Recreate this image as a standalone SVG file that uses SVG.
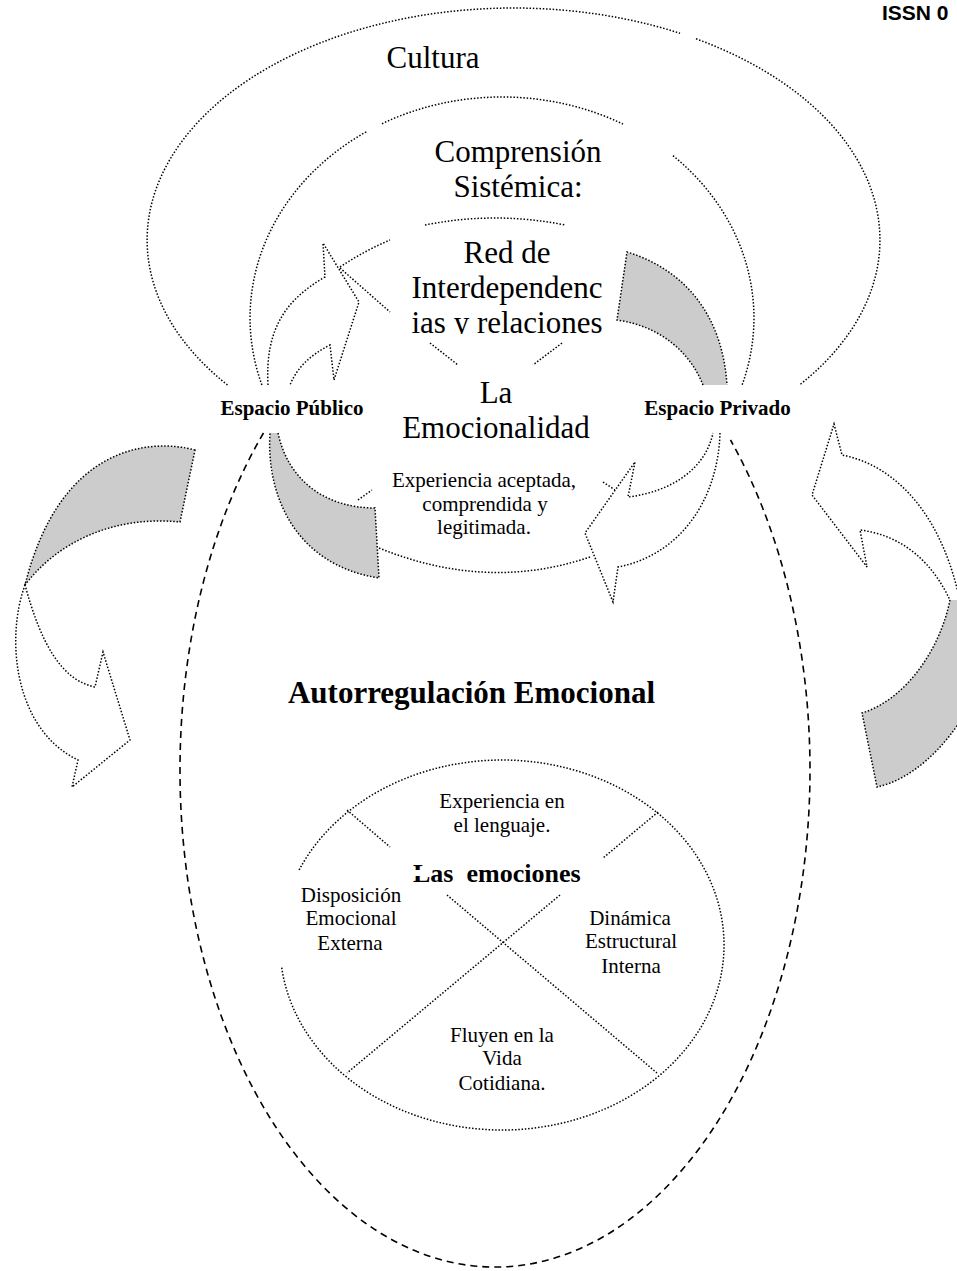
<svg xmlns="http://www.w3.org/2000/svg" width="957" height="1271" viewBox="0 0 957 1271">
<defs>
<style>
.dot{fill:none;stroke:#000;stroke-width:1.5;stroke-dasharray:1.5 1.8}
.dash{fill:none;stroke:#000;stroke-width:1.6;stroke-dasharray:7 5}
.grey{fill:#cccccc;stroke:#000;stroke-width:1.5;stroke-dasharray:1.5 1.8}
.white{fill:#ffffff;stroke:#000;stroke-width:1.5;stroke-dasharray:1.5 1.8}
.serif{font-family:"Liberation Serif","Times New Roman",serif;fill:#000}
.big{font-size:31px}
.mid{font-size:21px}
.b{font-weight:bold}
.c{text-anchor:middle}
</style>
<clipPath id="clipRed"><rect x="380" y="300" width="260" height="34"/></clipPath>
<clipPath id="clipLas"><path clip-rule="evenodd" d="M0,0H957V1271H0Z M408,870H424V876H408Z"/></clipPath>
</defs>
<rect width="957" height="1271" fill="#ffffff"/>

<g id="header">
<text x="882" y="20" font-family="'Liberation Sans',Arial,sans-serif" font-weight="bold" font-size="21">ISSN 0</text>
</g>

<g id="node-cultura">
<path class="dot" d="M227.5,385 A366.5,232 0 0 1 680,33.3"/>
<path class="dot" d="M696,38.8 A366.5,232 0 0 1 799.5,385"/>
<text class="serif big c" x="433" y="68">Cultura</text>
</g>

<g id="node-comprension">
<path class="dot" d="M261.9,385 A252,221 0 0 1 367,131.4"/>
<path class="dot" d="M382,123.7 A252,221 0 0 1 623,124.1"/>
<path class="dot" d="M673,155.7 A252,221 0 0 1 742.1,385"/>
<text class="serif big c" x="518" y="162">Comprensión</text>
<text class="serif big c" x="518" y="197">Sistémica:</text>
</g>

<g id="node-red">
<path class="dot" d="M340,267 Q364,251 390,240"/>
<path class="dot" d="M425,225 Q495,211 565,225"/>
<path class="dot" d="M340,268 L390,312"/>
<path class="dot" d="M430,343 L458,365"/>
<path class="dot" d="M562,343 L533,365"/>
<text class="serif big c" x="507" y="263">Red de</text>
<text class="serif big c" x="507" y="298">Interdependenc</text>
<text class="serif big c" x="507" y="333" clip-path="url(#clipRed)">ias y relaciones</text>
</g>

<g id="node-emocionalidad">
<path class="dot" d="M358,500 L372,490"/>
<path class="dot" d="M603,482 L615,490"/>
<path class="dot" d="M379,548 Q487,592 590,557"/>
<text class="serif big c" x="496" y="403">La</text>
<text class="serif big c" x="496" y="438">Emocionalidad</text>
<text class="serif mid c" x="484" y="487">Experiencia aceptada,</text>
<text class="serif mid c" x="485" y="511">comprendida y</text>
<text class="serif mid c" x="484" y="534">legitimada.</text>
</g>

<g id="node-espacio-publico">
<text class="serif b c" font-size="21" x="292" y="415">Espacio Público</text>
</g>

<g id="node-espacio-privado">
<text class="serif b c" font-size="21" x="717.5" y="415">Espacio Privado</text>
</g>

<g id="node-autorregulacion">
<path class="dash" d="M263.5,433 A315,497 0 1 0 730.5,440"/>
<text class="serif b c big" x="471.5" y="703">Autorregulación Emocional</text>
</g>

<g id="node-las-emociones">
<path class="dot" d="M299.1,870 A222,185 0 1 1 281.6,967"/>
<path class="dot" d="M347,810 L390,847"/>
<path class="dot" d="M447,895 L657,1073"/>
<path class="dot" d="M658,812 L603,858"/>
<path class="dot" d="M560,895 L347,1073"/>
<text class="serif b" font-size="26" x="413" y="882" xml:space="preserve" clip-path="url(#clipLas)">Las  emociones</text>
<text class="serif mid c" x="502" y="808">Experiencia en</text>
<text class="serif mid c" x="502" y="832">el lenguaje.</text>
<text class="serif mid c" x="351" y="902">Disposición</text>
<text class="serif mid c" x="351" y="925">Emocional</text>
<text class="serif mid c" x="350" y="950">Externa</text>
<text class="serif mid c" x="630" y="925">Dinámica</text>
<text class="serif mid c" x="631" y="948">Estructural</text>
<text class="serif mid c" x="631" y="973">Interna</text>
<text class="serif mid c" x="502" y="1042">Fluyen en la</text>
<text class="serif mid c" x="502" y="1065">Vida</text>
<text class="serif mid c" x="502" y="1090">Cotidiana.</text>
</g>

<g id="connectors">
<g id="arrow-publico-red">
<path class="white" d="M268,385 C265,330 285,300 325,277 L323,243 L359,302 L334,380 L330,345 Q300,360 290,385"/>
<path class="grey" d="M278,433 C288,480 325,508 375,508 L379,578 C295,565 266,495 270,433"/>
</g>
<g id="arrow-privado-emocionalidad">
<path class="grey" d="M703,385 C690,352 660,326 617,320 L627,252 C680,268 722,310 727,385"/>
<path class="white" d="M720,433 C718,500 680,555 618,567 L613,602 L585,533 L635,462 L628,497 C670,492 705,470 713,433"/>
</g>
<g id="arrow-outer-left">
<path class="grey" d="M195,450 C150,438 60,445 25,585 C55,545 110,515 180,522 Z"/>
<path class="white" d="M25,585 C5,640 15,730 78,760 L72,787 L130,740 L103,652 L95,687 C60,680 40,640 25,585 Z"/>
</g>
<g id="arrow-outer-right">
<path class="white" d="M962,612 C945,515 895,465 842,455 L834,424 L812,495 L867,567 L860,530 C900,535 935,560 955,612"/>
<path class="grey" d="M950,600 C940,650 905,700 862,713 L877,787 C910,780 945,750 970,705 L975,600"/>
</g>
</g>
</svg>
